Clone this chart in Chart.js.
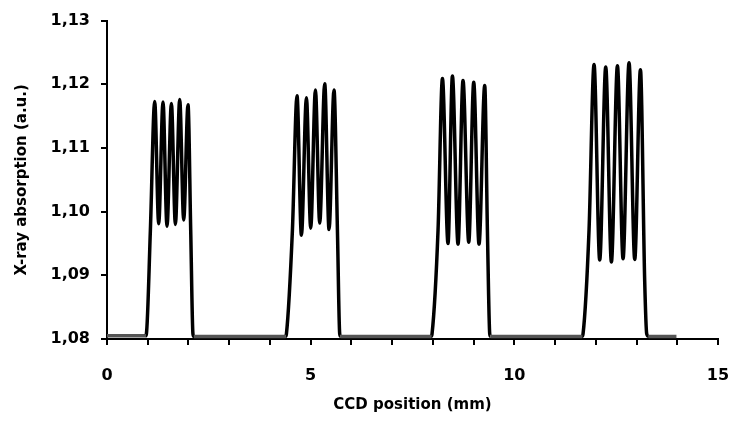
<!DOCTYPE html>
<html>
<head>
<meta charset="utf-8">
<script src="https://cdn.jsdelivr.net/npm/chart.js@4.4.0/dist/chart.umd.min.js"></script>
<style>
  body { margin: 0; background: #fff; }
</style>
</head>
<body>
<canvas id="myChart" width="733" height="432"></canvas>
<script>
// flat signal between the four scans
var baseX = [0, 0.945, 2.135, 4.385, 5.735, 7.96, 9.415, 11.665, 13.3, 13.98];
var baseY = [1.0805, 1.0805, 1.0804, 1.0804, 1.0804, 1.0804, 1.0804, 1.0804, 1.0804, 1.0804];

// the four oscillation groups (rise, peaks/troughs, fall)
var grp1X = [0.967, 1.065, 1.171, 1.269, 1.375, 1.473, 1.581, 1.679, 1.785, 1.883, 1.989, 2.055, 2.11];
var grp1Y = [1.0808, 1.0971, 1.1173, 1.0981, 1.1172, 1.0977, 1.1170, 1.0980, 1.1176, 1.0987, 1.1168, 1.0971, 1.0808];

var grp2X = [4.405, 4.552, 4.665, 4.773, 4.896, 5.001, 5.117, 5.222, 5.345, 5.451, 5.573, 5.657, 5.713];
var grp2Y = [1.0808, 1.0971, 1.1182, 1.0963, 1.1179, 1.0974, 1.1191, 1.0982, 1.1201, 1.0972, 1.1191, 1.0971, 1.0808];

var grp3X = [7.98, 8.127, 8.235, 8.372, 8.48, 8.618, 8.74, 8.881, 9.003, 9.133, 9.273, 9.339, 9.396];
var grp3Y = [1.0808, 1.0971, 1.1209, 1.0950, 1.1213, 1.0949, 1.1206, 1.0952, 1.1203, 1.0949, 1.1198, 1.0971, 1.0808];

var grp4X = [11.687, 11.834, 11.957, 12.096, 12.244, 12.383, 12.531, 12.669, 12.816, 12.956, 13.096, 13.2, 13.25];
var grp4Y = [1.0808, 1.0971, 1.1231, 1.0924, 1.1227, 1.0921, 1.1229, 1.0926, 1.1234, 1.0925, 1.1223, 1.0892, 1.0808];

var yTicks = [1.08, 1.09, 1.10, 1.11, 1.12, 1.13];
var xLabels = [0, 5, 10, 15];

function pairs(xs, ys) {
  return xs.map(function (x, i) { return {x: x, y: ys[i]}; });
}

var trace = [].concat(
  pairs(baseX, baseY), pairs(grp1X, grp1Y), pairs(grp2X, grp2Y),
  pairs(grp3X, grp3Y), pairs(grp4X, grp4Y)
).sort(function (a, b) { return a.x - b.x; });

var fontFam = "'DejaVu Sans', sans-serif";

var ctx = document.getElementById('myChart').getContext('2d');
var chart = new Chart(ctx, {
  type: 'line',
  data: {
    datasets: [{
      data: trace,
      borderColor: '#000',
      borderWidth: 3.5,
      pointRadius: 0,
      cubicInterpolationMode: 'monotone',
      segment: {
        borderColor: function (c) {
          return (c.p0.parsed.y < 1.0806 && c.p1.parsed.y < 1.0806) ? '#555' : '#000';
        }
      }
    }]
  },
  options: {
    responsive: false,
    animation: false,
    layout: { autoPadding: false, padding: { top: 20, right: 15, left: 0, bottom: 0 } },
    plugins: { legend: { display: false }, tooltip: { enabled: false } },
    scales: {
      x: {
        type: 'linear',
        min: 0,
        max: 15,
        afterFit: function (s) {
          s.height = 93;
          s.paddingLeft = 0;
          s.paddingRight = 0;
        },
        border: { color: '#000', width: 2 },
        grid: { drawOnChartArea: false, drawTicks: true, tickLength: 6, color: '#000', lineWidth: 2 },
        ticks: {
          stepSize: 1,
          autoSkip: false,
          maxRotation: 0,
          padding: 21,
          color: '#000',
          font: { family: fontFam, size: 16, weight: 'bold' },
          callback: function (v) { return xLabels.indexOf(v) >= 0 ? String(v) : ''; }
        },
        title: {
          display: true,
          text: 'CCD position (mm)',
          color: '#000',
          font: { family: fontFam, size: 15, weight: 'bold' },
          padding: { top: 0, bottom: 18 }
        }
      },
      y: {
        min: 1.08,
        max: 1.13,
        afterFit: function (s) { s.width = 107; },
        afterBuildTicks: function (s) { s.ticks = yTicks.map(function (v) { return {value: v}; }); },
        border: { color: '#000', width: 2 },
        grid: { drawOnChartArea: false, drawTicks: true, tickLength: 6, color: '#000', lineWidth: 2 },
        ticks: {
          padding: 11,
          color: '#000',
          font: { family: fontFam, size: 16, weight: 'bold' },
          callback: function (v) { return v.toFixed(2).replace('.', ','); }
        },
        title: {
          display: true,
          text: 'X-ray absorption (a.u.)',
          color: '#000',
          font: { family: fontFam, size: 15, weight: 'bold' },
          padding: { top: 13, bottom: 0 }
        }
      }
    }
  }
});
</script>
</body>
</html>
